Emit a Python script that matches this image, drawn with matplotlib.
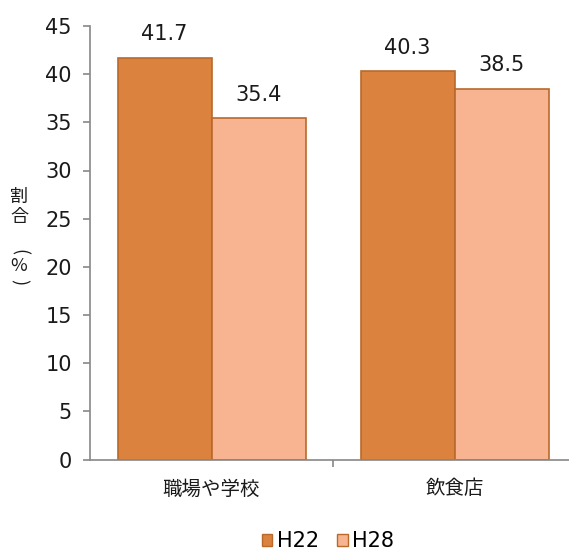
import matplotlib
matplotlib.use("Agg")
import matplotlib.pyplot as plt
from matplotlib.patches import Patch
import numpy as np

plt.rcParams['font.family'] = ['DejaVu Sans', 'Noto Sans CJK JP']
CJK = ['Noto Sans CJK JP', 'DejaVu Sans']

categories = ["職場や学校", "飲食店"]
series_names = ["H22", "H28"]
h22 = [41.7, 40.3]
h28 = [35.4, 38.5]
yticks = [0, 5, 10, 15, 20, 25, 30, 35, 40, 45]

col_h22 = "#DB833E"
col_h28 = "#F8B491"
edge = "#B8692B"
txt = "#1a1a1a"

fig = plt.figure(figsize=(5.69, 5.52), dpi=100)
W, H = 569, 552
left_px, right_px = 90, 576
bottom_px, top_px = 459.5, 26
ax = fig.add_axes([left_px / W, (H - bottom_px) / H, (right_px - left_px) / W, (bottom_px - top_px) / H])

x = np.arange(len(categories))
bw = 94 / 243
b1 = ax.bar(x - bw / 2, h22, bw, color=col_h22, edgecolor=edge, linewidth=1.2, label=series_names[0])
b2 = ax.bar(x + bw / 2, h28, bw, color=col_h28, edgecolor=edge, linewidth=1.2, label=series_names[1])

for bars, vals in ((b1, h22), (b2, h28)):
    for rect, v in zip(bars, vals):
        ax.annotate(f"{v:.1f}", (rect.get_x() + rect.get_width() / 2, v),
                    xytext=(0, 17), textcoords="offset points",
                    ha="center", va="center", fontsize=15, color=txt)

ax.set_xlim(-0.5, 1.5)
ax.set_ylim(0, 45)
ax.set_yticks(yticks)
ax.set_yticklabels([str(t) for t in yticks], fontsize=15, color=txt)
ax.set_xticks([0.5])
ax.set_xticklabels([""])
ax.tick_params(axis='x', length=5, color="#888888", width=1.2)
ax.tick_params(axis='y', length=5, color="#888888", width=1.2, pad=8)
for c, lab in zip(x, categories):
    ax.text(c, -0.068, lab, transform=ax.get_xaxis_transform(), ha="center", va="center",
            fontsize=14, color=txt, family=CJK)

for s in ("top", "right"):
    ax.spines[s].set_visible(False)
for s in ("left", "bottom"):
    ax.spines[s].set_color("#888888")
    ax.spines[s].set_linewidth(1.2)

ylabel_parts = [("割", 197, 0), ("合", 217, 0), ("(", 252, -90), ("%", 266, 0), (")", 282, -90)]
for ch, yy, rot in ylabel_parts:
    fig.text(19 / W, 1 - yy / H, ch, ha="center", va="center", rotation=rot,
             rotation_mode="anchor", fontsize=13, color=txt, family=CJK)

handles = [Patch(facecolor=col_h22, edgecolor=edge), Patch(facecolor=col_h28, edgecolor=edge)]
fig.legend(handles, series_names, loc="center", bbox_to_anchor=(328 / W, 1 - 541 / H),
           ncol=2, frameon=False, fontsize=15, handlelength=0.5, handleheight=0.5,
           handletextpad=0.2, columnspacing=0.9)

fig.savefig("out.png", dpi=100)
